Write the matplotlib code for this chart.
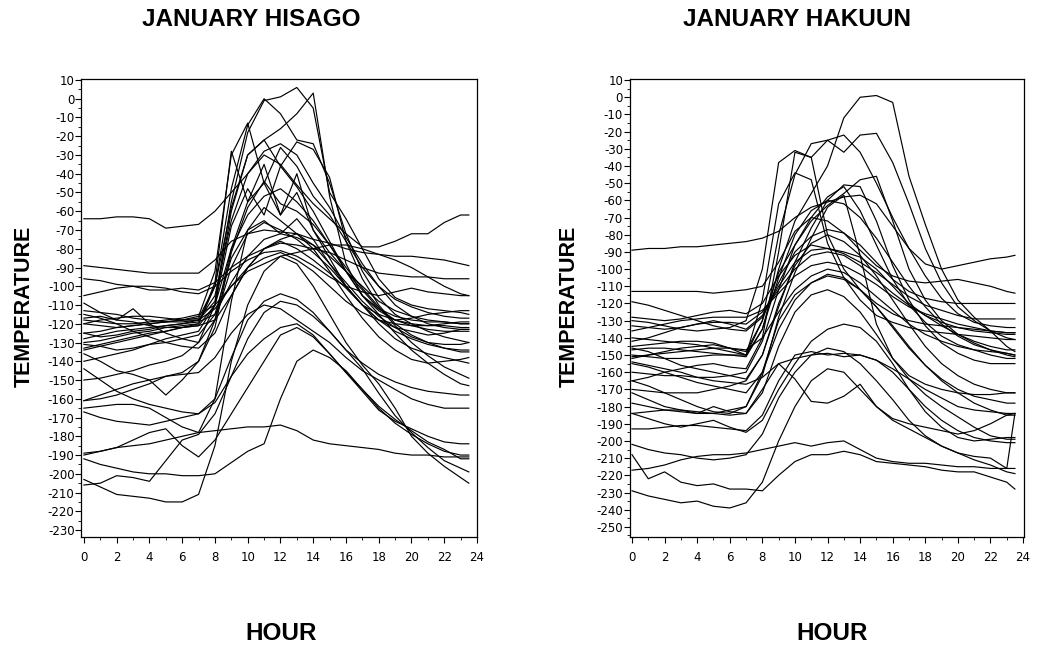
import matplotlib
matplotlib.use("Agg")
import matplotlib.pyplot as plt
from matplotlib.ticker import MultipleLocator

plt.rcParams['axes.unicode_minus'] = False
plt.rcParams['font.family'] = ['DejaVu Sans']

HOURS = list(range(24)) + [23.5]

hisago_series = [
    [-64,-64,-63,-63,-64,-69,-68,-67,-60,-50,-40,-30,-35,-46,-56,-64,-72,-79,-79,-76,-72,-72,-66,-62,-62],
    [-89,-90,-91,-92,-93,-93,-93,-93,-86,-76,-72,-70,-71,-72,-75,-77,-80,-82,-83,-84,-84,-85,-86,-88,-89],
    [-96,-97,-99,-100,-102,-102,-101,-102,-98,-90,-84,-80,-77,-78,-80,-82,-86,-90,-93,-94,-95,-95,-96,-96,-96],
    [-105,-103,-101,-100,-100,-101,-103,-104,-100,-92,-86,-82,-81,-84,-89,-95,-100,-103,-105,-103,-101,-103,-104,-105,-105],
    [-109,-114,-118,-112,-120,-125,-128,-130,-118,-80,-55,-45,-62,-50,-70,-85,-100,-110,-115,-118,-117,-115,-114,-113,-113],
    [-113,-114,-115,-117,-118,-119,-119,-118,-108,-55,-18,-1,1,6,-5,-50,-64,-80,-96,-106,-110,-112,-113,-114,-115],
    [-125,-124,-122,-121,-120,-119,-118,-117,-100,-58,-30,-22,-16,-8,3,-52,-88,-105,-112,-116,-118,-119,-119,-120,-120],
    [-134,-132,-130,-128,-126,-124,-122,-120,-100,-48,-14,0,-8,-22,-24,-45,-72,-92,-106,-115,-120,-124,-127,-129,-130],
    [-120,-121,-122,-121,-120,-119,-118,-116,-92,-30,-13,-45,-26,-36,-52,-62,-76,-90,-100,-107,-111,-114,-116,-117,-117],
    [-130,-129,-127,-125,-124,-122,-121,-120,-98,-28,-55,-35,-62,-40,-70,-82,-92,-102,-112,-118,-121,-123,-124,-124,-124],
    [-140,-138,-136,-134,-131,-128,-126,-124,-110,-60,-30,-22,-36,-23,-27,-42,-76,-96,-110,-120,-126,-130,-133,-135,-135],
    [-150,-149,-147,-145,-142,-140,-137,-130,-110,-68,-48,-62,-36,-47,-60,-76,-92,-105,-115,-125,-134,-141,-147,-152,-153],
    [-161,-160,-158,-155,-152,-148,-146,-140,-122,-82,-58,-44,-56,-60,-67,-78,-90,-101,-111,-121,-130,-137,-143,-147,-149],
    [-118,-119,-120,-120,-119,-118,-117,-115,-110,-100,-92,-88,-84,-82,-80,-78,-78,-80,-83,-86,-90,-95,-100,-104,-105],
    [-128,-126,-124,-123,-122,-121,-120,-119,-115,-98,-84,-75,-72,-74,-78,-84,-92,-100,-108,-113,-116,-118,-119,-120,-120],
    [-133,-131,-129,-127,-125,-124,-122,-121,-118,-105,-90,-80,-76,-80,-86,-93,-101,-110,-118,-122,-124,-126,-125,-123,-123],
    [-136,-140,-145,-147,-150,-158,-150,-140,-118,-90,-72,-66,-70,-75,-82,-90,-100,-110,-120,-128,-133,-136,-138,-140,-141],
    [-144,-150,-156,-160,-163,-165,-167,-168,-160,-138,-118,-108,-104,-107,-114,-124,-134,-141,-147,-151,-154,-156,-157,-158,-158],
    [-161,-158,-155,-152,-150,-148,-147,-146,-138,-125,-115,-110,-112,-118,-124,-130,-138,-145,-150,-155,-160,-163,-165,-165,-165],
    [-165,-164,-163,-163,-165,-170,-175,-178,-160,-108,-70,-58,-65,-72,-80,-92,-105,-117,-127,-134,-139,-141,-140,-139,-138],
    [-167,-170,-172,-173,-174,-172,-170,-168,-162,-148,-136,-128,-122,-120,-126,-136,-146,-156,-166,-172,-176,-180,-183,-184,-184],
    [-203,-207,-211,-212,-213,-215,-215,-211,-185,-140,-110,-92,-84,-88,-100,-115,-130,-142,-152,-165,-180,-189,-196,-202,-205],
    [-206,-205,-201,-202,-204,-193,-182,-179,-168,-148,-128,-114,-108,-110,-116,-124,-134,-144,-157,-169,-178,-186,-193,-197,-199],
    [-192,-195,-197,-199,-200,-200,-201,-201,-200,-194,-188,-184,-160,-140,-134,-138,-145,-155,-165,-173,-179,-184,-188,-190,-190],
    [-189,-188,-186,-185,-184,-182,-180,-178,-177,-176,-175,-175,-174,-177,-182,-184,-185,-186,-187,-189,-190,-190,-191,-191,-191],
    [-190,-188,-186,-182,-178,-176,-185,-191,-182,-168,-154,-140,-126,-122,-127,-136,-146,-155,-164,-171,-177,-183,-187,-192,-192],
    [-120,-118,-117,-116,-116,-117,-118,-118,-112,-100,-90,-85,-82,-86,-92,-100,-108,-114,-118,-120,-121,-121,-120,-119,-119],
    [-115,-117,-120,-124,-127,-130,-132,-133,-125,-105,-90,-80,-75,-72,-78,-88,-98,-108,-116,-122,-127,-130,-131,-131,-130],
    [-125,-127,-126,-124,-123,-121,-120,-118,-105,-65,-40,-28,-24,-30,-45,-58,-74,-88,-100,-110,-116,-120,-122,-123,-123],
    [-117,-116,-118,-119,-121,-122,-122,-121,-110,-80,-62,-52,-48,-55,-65,-78,-92,-105,-113,-118,-120,-121,-121,-122,-122],
    [-131,-132,-134,-133,-131,-130,-128,-126,-115,-85,-70,-65,-72,-64,-75,-88,-100,-110,-118,-124,-128,-131,-133,-134,-134],
]

hakuun_series = [
    [-89,-88,-88,-87,-87,-86,-85,-84,-82,-78,-70,-64,-61,-58,-57,-62,-75,-88,-97,-100,-98,-96,-94,-93,-92],
    [-152,-150,-148,-146,-145,-144,-146,-150,-135,-100,-72,-56,-40,-12,0,1,-3,-46,-74,-100,-118,-128,-136,-145,-148],
    [-145,-144,-143,-142,-142,-143,-146,-148,-130,-80,-45,-27,-25,-32,-22,-21,-38,-62,-88,-108,-122,-130,-136,-140,-141],
    [-165,-163,-160,-158,-156,-155,-157,-158,-140,-90,-32,-35,-25,-22,-32,-50,-70,-88,-104,-117,-126,-131,-133,-134,-134],
    [-130,-131,-133,-135,-136,-135,-134,-130,-100,-38,-31,-35,-80,-100,-112,-120,-126,-130,-132,-133,-134,-135,-136,-137,-137],
    [-140,-141,-142,-143,-144,-146,-148,-150,-118,-62,-44,-48,-85,-105,-118,-127,-131,-134,-136,-137,-138,-139,-140,-141,-141],
    [-150,-151,-152,-152,-151,-150,-150,-150,-130,-102,-86,-72,-63,-56,-48,-46,-72,-100,-118,-130,-138,-143,-147,-150,-151],
    [-160,-161,-162,-162,-163,-163,-162,-160,-142,-112,-86,-70,-58,-52,-66,-86,-106,-121,-131,-139,-144,-147,-150,-152,-152],
    [-170,-171,-172,-172,-172,-170,-168,-165,-150,-122,-96,-76,-60,-51,-52,-72,-98,-118,-133,-143,-149,-153,-155,-155,-155],
    [-178,-180,-182,-183,-184,-184,-182,-180,-162,-128,-102,-82,-64,-57,-92,-132,-152,-162,-167,-170,-172,-173,-173,-172,-172],
    [-113,-113,-113,-113,-113,-114,-113,-112,-110,-96,-78,-70,-72,-79,-89,-98,-104,-107,-108,-107,-106,-108,-110,-113,-114],
    [-119,-121,-124,-127,-130,-133,-135,-136,-128,-108,-90,-81,-77,-79,-86,-96,-106,-113,-117,-119,-120,-120,-120,-120,-120],
    [-128,-129,-130,-129,-127,-125,-124,-126,-120,-104,-92,-86,-88,-91,-96,-102,-109,-116,-121,-124,-127,-129,-129,-129,-129],
    [-136,-134,-132,-130,-129,-128,-128,-128,-124,-114,-104,-98,-96,-98,-103,-109,-116,-122,-126,-129,-132,-134,-136,-137,-137],
    [-142,-140,-137,-134,-132,-130,-132,-135,-127,-110,-96,-89,-88,-90,-93,-100,-110,-120,-127,-133,-138,-142,-145,-147,-147],
    [-184,-183,-182,-182,-183,-184,-185,-184,-170,-155,-164,-177,-178,-174,-167,-180,-187,-190,-192,-194,-196,-194,-190,-185,-184],
    [-165,-168,-172,-176,-180,-183,-184,-180,-160,-130,-115,-108,-104,-106,-112,-122,-134,-146,-156,-164,-170,-174,-176,-178,-178],
    [-172,-176,-180,-182,-184,-180,-183,-184,-172,-145,-125,-115,-112,-116,-125,-138,-152,-164,-173,-180,-186,-192,-197,-199,-199],
    [-193,-193,-192,-191,-191,-192,-193,-194,-185,-165,-150,-148,-150,-149,-150,-153,-160,-170,-180,-188,-194,-198,-200,-201,-201],
    [-217,-216,-214,-211,-209,-208,-208,-207,-205,-203,-201,-203,-201,-200,-205,-210,-212,-213,-213,-214,-215,-215,-216,-216,-216],
    [-208,-222,-218,-224,-226,-225,-228,-228,-229,-220,-212,-208,-208,-206,-208,-212,-213,-214,-215,-217,-218,-218,-221,-224,-228],
    [-229,-232,-234,-236,-235,-238,-239,-236,-224,-200,-180,-165,-158,-160,-170,-180,-188,-193,-198,-203,-207,-211,-214,-218,-219],
    [-202,-205,-207,-208,-210,-211,-210,-208,-196,-175,-160,-150,-146,-148,-155,-165,-176,-188,-197,-203,-207,-209,-210,-216,-184],
    [-154,-156,-158,-160,-163,-165,-166,-167,-163,-155,-152,-150,-149,-151,-150,-153,-158,-164,-170,-175,-180,-182,-183,-184,-184],
    [-146,-148,-152,-156,-158,-160,-162,-164,-150,-120,-98,-85,-80,-84,-92,-104,-118,-132,-145,-155,-162,-167,-170,-172,-172],
    [-151,-150,-149,-148,-147,-146,-146,-147,-140,-125,-112,-104,-100,-102,-108,-116,-124,-132,-138,-142,-145,-147,-148,-149,-150],
    [-155,-157,-160,-163,-166,-168,-170,-172,-160,-135,-118,-108,-103,-105,-112,-122,-133,-145,-156,-165,-172,-178,-182,-185,-185],
    [-184,-187,-190,-192,-190,-188,-192,-195,-188,-170,-155,-142,-135,-132,-134,-142,-155,-170,-183,-192,-198,-200,-199,-198,-198],
    [-147,-146,-146,-147,-148,-149,-150,-151,-135,-105,-80,-66,-60,-62,-70,-82,-96,-110,-122,-132,-139,-144,-147,-149,-150],
    [-133,-134,-135,-134,-132,-131,-131,-132,-125,-112,-100,-92,-90,-92,-98,-106,-114,-121,-127,-131,-134,-136,-137,-138,-138],
]

titles = ["JANUARY HISAGO", "JANUARY HAKUUN"]
xticks = list(range(0, 25, 2))

fig = plt.figure(figsize=(10.39, 6.51), dpi=100)

panels = [
    dict(rect=[0.0784, 0.1751, 0.3807, 0.7035], series=hisago_series,
         ylim=(-233.7, 10.5), yticks=list(range(-230, 11, 10)), xlim=(-0.15, 24.0),
         title_x=251/1039, ylab_x=24/1039, hour_x=281/1039),
    dict(rect=[0.6064, 0.1751, 0.3792, 0.7035], series=hakuun_series,
         ylim=(-255.9, 10.6), yticks=list(range(-250, 11, 10)), xlim=(-0.12, 24.06),
         title_x=797/1039, ylab_x=569/1039, hour_x=832/1039),
]

for p, title in zip(panels, titles):
    ax = fig.add_axes(p['rect'])
    for s in p['series']:
        ax.plot(HOURS, s, color='black', lw=0.85)
    ax.set_xlim(*p['xlim'])
    ax.set_ylim(*p['ylim'])
    ax.set_xticks(xticks)
    ax.set_yticks(p['yticks'])
    ax.xaxis.set_minor_locator(MultipleLocator(1))
    ax.yaxis.set_minor_locator(MultipleLocator(5))
    ax.tick_params(axis='both', which='major', direction='out', length=4, width=0.8,
                   labelsize=8.5, pad=1)
    ax.tick_params(axis='both', which='minor', direction='out', length=2, width=0.6)
    ax.tick_params(axis='x', pad=6)
    for sp in ax.spines.values():
        sp.set_linewidth(0.9)
    fig.text(p['title_x'], 1 - 19/651, title, ha='center', va='center',
             fontsize=17.5, fontweight='bold', family='Liberation Sans')
    fig.text(p['ylab_x'], 1 - 306/651, "TEMPERATURE", ha='center', va='center',
             rotation=90, fontsize=15.5, fontweight='bold', family='Liberation Sans')
    fig.text(p['hour_x'], 1 - 633/651, "HOUR", ha='center', va='center',
             fontsize=17.5, fontweight='bold', family='Liberation Sans')

fig.savefig("out.png", dpi=100)
